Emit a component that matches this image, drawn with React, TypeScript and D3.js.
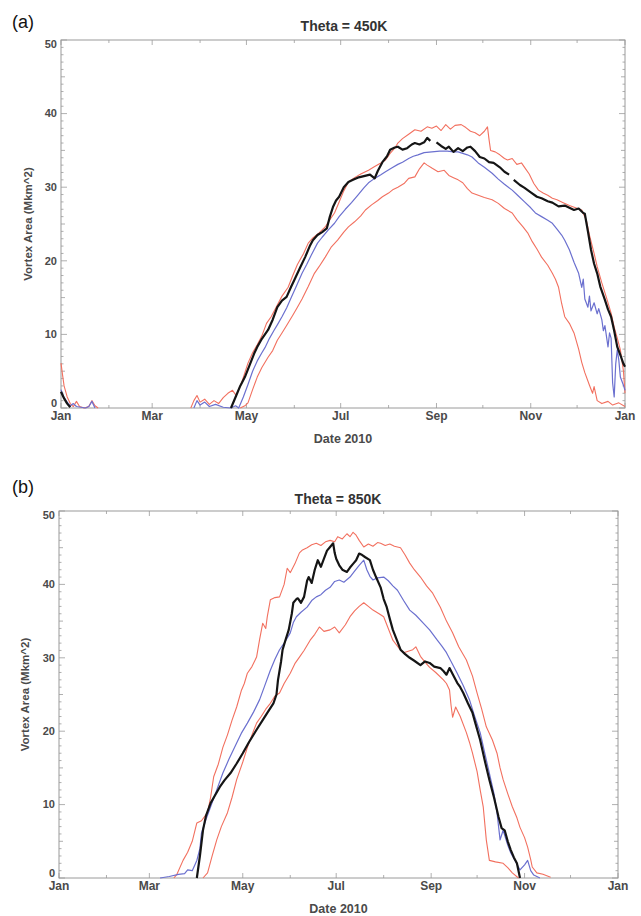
import React from "react";
import * as d3 from "d3";

type Pt = [number, number] | null;

// ---- Panel (a): Theta = 450K  (day of year 2010, vortex area Mkm^2)
const obs450: Pt[] = [
  [0, 2.2], [2, 1.3], [4, 0.6], [6, 0.1], null,
  [110, 0], [113, 1.5], [116, 3], [119, 4.2], [122, 5.8], [125, 7.4], [127, 8.3], [130, 9.4], [134, 10.6], [137, 12],
  [140, 13.7], [143, 14.6], [146, 15.1], [149, 16.5], [151, 17.4], [155, 19.2], [158, 20.5], [161, 22], [163, 22.8],
  [166, 23.5], [169, 23.9], [172, 24.4], [174, 26], [176, 27.3], [178, 28.2], [180, 28.7], [183, 30], [186, 30.7],
  [189, 31], [192, 31.3], [196, 31.5], [200, 31.7], [203, 31.2], [205, 32.2], [208, 33.4], [211, 34.2], [213, 35.1],
  [216, 35.4], [218, 35.5], [221, 35.1], [224, 35.3], [227, 35.8], [229, 36], [232, 35.8], [235, 36.1], [237, 36.7],
  [239, 36.3], null, [243, 36.1], [246, 35.6], [249, 35.2], [251, 35.5], [254, 34.8], [257, 35.3], [260, 34.9],
  [263, 35.4], [265, 35.5], [268, 34.9], [271, 34.1], [274, 33.9], [277, 33.4], [280, 33.3], [284, 32.7], [287, 32.1],
  [290, 31.7], null, [293, 31.0], [297, 30.3], [300, 29.9], [304, 29.3], [308, 28.7], [311, 28.5], [315, 28.1],
  [318, 27.9], [322, 27.4], [326, 27.5], [329, 27.2], [332, 26.9], [335, 27.1], [338, 26.5], [339, 26.4], [341, 24],
  [343, 21.5], [345, 19.6], [347, 18.3], [349, 16.5], [352, 14.7], [354, 13.4], [356, 12.4], [358, 10.5], [360, 8.3],
  [362, 7.2], [364, 6], [365, 5.6],
];
const mean450: Pt[] = [
  [0, 2.5], [2, 1.4], [4, 0.8], [6, 0.3], [8, 0.6], [10, 0.2], [13, 0.1], [16, 0], [18, 0.2], [20, 0.9], [22, 0], null,
  [86, 0], [88, 1.0], [90, 0.4], [93, 0.8], [96, 0.2], [100, 0.5], [105, 0.1], [110, 0], [113, 0.3],
  [115, 0], [118, 1.5], [121, 3.2], [124, 5], [127, 6.4], [130, 7.5], [132, 8.2], [135, 9.5], [138, 10.6], [140, 11.3],
  [143, 12.4], [146, 13.6], [149, 15], [152, 16.4], [156, 18.3], [159, 19.5], [162, 20.8], [166, 22.4], [169, 23.2],
  [173, 24.2], [177, 25.1], [180, 26], [184, 27], [188, 27.9], [192, 28.9], [196, 29.9], [199, 30.6], [203, 31.2],
  [207, 31.7], [210, 32.1], [214, 32.6], [218, 33.1], [221, 33.4], [225, 33.9], [228, 34.2], [231, 34.4], [235, 34.7],
  [240, 34.8], [245, 34.9], [250, 34.9], [254, 34.8], [257, 34.8], [260, 34.6], [263, 34.4], [266, 34.1], [270, 33.3],
  [274, 32.7], [279, 31.9], [283, 31.1], [287, 30.4], [292, 29.6], [296, 28.8], [300, 28], [304, 27.2], [307, 26.5],
  [311, 26], [315, 25.5], [318, 25.1], [321, 24.3], [324, 23.5], [326, 22.8], [329, 21.5], [332, 19.8], [335, 18.3],
  [337, 16.4], [338, 17.5], [339, 14.8], [341, 13.7], [342, 15.2], [343, 13.2], [345, 14.3], [347, 12.8], [348, 13.5],
  [350, 12], [351, 10.5], [352, 11.2], [354, 8.3], [355, 10.2], [356, 9.5], [357, 3.4], [358, 1.5], [359, 6], [360, 7.9],
  [361, 6.5], [362, 4.2], [364, 3.1], [365, 2.4],
];
const max450: Pt[] = [
  [0, 6.1], [1, 4.5], [2, 3.0], [4, 1.5], [6, 0.6], [8, 0.2], [10, 0.9], [12, 0.2], [15, 0], [18, 0.2], [20, 1.0],
  [22, 0.3], [24, 0], null,
  [84, 0], [86, 1.0], [88, 1.7], [90, 0.8], [93, 1.2], [96, 0.5], [99, 1.0], [102, 0.6], [105, 1.4], [108, 2.0],
  [111, 2.4], [113, 1.8], [114, 2.0], [117, 3.5], [121, 6.1], [124, 7.5], [127, 8.6], [130, 9.8], [133, 11.5],
  [136, 12.4], [140, 14], [143, 15.2], [147, 16.4], [150, 18], [153, 19.5], [157, 21], [160, 22.4], [163, 23.1],
  [167, 23.8], [171, 24.6], [174, 25.6], [177, 26.5], [180, 28], [183, 29.5], [186, 30.7], [190, 31.3], [194, 31.8],
  [199, 32.3], [203, 32.8], [207, 33.3], [210, 33.7], [213, 34.6], [216, 35.3], [218, 36], [221, 36.6], [225, 37.2],
  [229, 37.8], [233, 37.6], [237, 38.2], [240, 38], [243, 38.3], [246, 37.7], [249, 38.5], [252, 37.9], [255, 38.4],
  [259, 38.5], [262, 38.1], [265, 37.6], [268, 37.4], [271, 37.0], [274, 37.6], [276, 38.2], [277, 36.5], [278, 35],
  [281, 34.8], [284, 34.4], [287, 33.9], [289, 33.7], [292, 33.9], [295, 33.1], [298, 33.3], [300, 32.7], [303, 31.8],
  [306, 30.5], [309, 29.6], [312, 29.2], [315, 28.9], [318, 28.5], [321, 28.3], [325, 27.9], [329, 27.5], [333, 27.2],
  [337, 26.9], [340, 25.5], [342, 23.5], [345, 21], [347, 19.2], [350, 17], [353, 15], [356, 12.9], [358, 11],
  [360, 9.5], [362, 7.9], [364, 5], [365, 2],
];
const min450: Pt[] = [
  [116, 0], [119, 0.3], [121, 0.7], [124, 2.5], [127, 4.2], [130, 5.5], [134, 6.9], [137, 7.8], [140, 9.2], [143, 10.2],
  [146, 11.2], [150, 12.6], [153, 13.7], [156, 14.8], [160, 16.5], [164, 18.3], [167, 19.2], [171, 20.5], [175, 21.9],
  [179, 22.8], [183, 23.9], [186, 24.6], [190, 25.3], [194, 26.1], [197, 26.9], [201, 27.6], [205, 28.2], [208, 28.7],
  [212, 29.2], [215, 29.7], [218, 30], [222, 30.5], [225, 31.2], [229, 31.4], [232, 32.5], [235, 33.3], [237, 33.0],
  [240, 32.6], [244, 32.1], [248, 32.3], [251, 31.6], [254, 31.3], [257, 31], [260, 30.6], [263, 29.8], [266, 29.2],
  [270, 28.9], [274, 28.6], [279, 28.3], [283, 27.8], [287, 27.1], [292, 26.5], [295, 25.6], [299, 24.6], [302, 23.8],
  [305, 22.6], [308, 21.6], [311, 20.5], [315, 19.4], [318, 18.3], [320, 17.5], [322, 16.4], [324, 14.2], [326, 12.4],
  [329, 11.5], [332, 10.2], [335, 8], [337, 6.2], [339, 4.8], [342, 3.1], [344, 2], [345, 2.9], [347, 1.0], [350, 0.6],
  [354, 0.9], [357, 0.4], [361, 0.7], [365, 0.2],
];

// ---- Panel (b): Theta = 850K
const obs850: Pt[] = [
  [90, 0], [92, 3], [94, 6.5], [96, 8.5], [99, 10.2], [102, 11.3], [105, 12.4], [108, 13.3], [112, 14.3], [116, 15.6],
  [120, 17], [124, 18.5], [129, 20.2], [133, 21.5], [136, 22.5], [140, 23.8], [142, 25], [143, 27], [145, 29.5],
  [146, 31.1], [148, 32.5], [150, 33.8], [152, 36], [153, 37.5], [155, 38], [156, 38.1], [158, 37.5], [160, 38.3],
  [162, 40.5], [163, 41], [165, 40.2], [167, 42], [169, 43.3], [171, 42.4], [173, 43.5], [175, 44.6], [177, 45.1],
  [179, 45.6], [180, 44.3], [181, 43.5], [183, 42.6], [185, 42], [188, 41.7], [190, 42.3], [192, 42.8], [194, 43.3],
  [196, 44.2], [198, 44], [200, 43.7], [203, 43.3], [205, 42], [207, 41], [210, 39.6], [212, 38], [214, 36.9],
  [216, 35.3], [218, 33.8], [221, 32.2], [223, 31.1], [226, 30.5], [229, 30], [232, 29.6], [236, 29], [239, 29.5],
  [242, 29.3], [245, 28.8], [249, 28.6], [251, 28.2], [253, 27.7], [255, 28.6], [257, 27.8], [260, 26.6], [262, 26],
  [264, 25.2], [267, 23.8], [270, 22.5], [272, 21], [275, 18.8], [278, 16], [281, 13.4], [284, 11], [287, 8.3],
  [289, 6.8], [291, 6.5], [293, 5], [295, 3.8], [297, 2.8], [299, 2], [301, 0],
];
const mean850: Pt[] = [
  [66, 0], [72, 0.2], [78, 0.5], [82, 0.6], [84, 1.1], [87, 1.0], [90, 2.4], [92, 4], [93, 6.1], [96, 8], [99, 9.7],
  [103, 12], [107, 14.3], [111, 16.2], [116, 18.4], [119, 19.7], [123, 21.1], [127, 22.6], [131, 24.3], [134, 26],
  [138, 28.3], [141, 29.8], [144, 31.1], [147, 32], [151, 33.4], [153, 34.8], [155, 35.6], [158, 36.2], [162, 36.9],
  [165, 37.8], [168, 38.3], [171, 38.6], [174, 39.2], [177, 39.6], [180, 40.4], [183, 40.6], [186, 40.3], [190, 41],
  [193, 41.8], [196, 42.6], [199, 43.3], [201, 42], [203, 41.1], [205, 40.6], [208, 40.9], [212, 41], [215, 40.5],
  [218, 39.8], [221, 39.2], [225, 37.8], [229, 36.5], [233, 35.8], [238, 34.7], [242, 33.8], [247, 32.4], [250, 31.6],
  [253, 30.7], [256, 29.5], [260, 27.9], [264, 26.2], [268, 24.3], [271, 22.3], [275, 19.8], [278, 17], [281, 14.3],
  [284, 11.5], [286, 8.9], [288, 5.2], [290, 6.5], [293, 4.5], [295, 3.4], [298, 2.3], [301, 1.1], [304, 1.8],
  [306, 2.4], [308, 1.0], [310, 0.4], [314, 0],
];
const max850: Pt[] = [
  [75, 0], [77, 0.5], [81, 2.4], [84, 3.5], [87, 5], [90, 7.5], [93, 7.8], [97, 8.9], [99, 11], [101, 13.8],
  [104, 15.5], [107, 17.8], [110, 19.5], [113, 21.5], [116, 23.3], [119, 25.5], [121, 26.5], [123, 27.9], [126, 28.8],
  [129, 30.1], [131, 32.5], [133, 34.7], [135, 34], [136, 35.6], [138, 37.9], [141, 38.2], [144, 38.3], [147, 40],
  [149, 42.2], [151, 41.6], [154, 42.8], [157, 44.3], [159, 44.7], [162, 45], [165, 45.4], [168, 45.6], [171, 45.3],
  [174, 45.8], [177, 46], [180, 45.8], [182, 46.5], [185, 46.2], [188, 46.9], [190, 46.5], [192, 47.1], [194, 46.7],
  [196, 46], [199, 45.1], [202, 45.5], [205, 45.2], [208, 45.7], [210, 45.6], [213, 45.3], [216, 45.5], [219, 45.2],
  [223, 45], [226, 44], [229, 42.9], [232, 42], [236, 41], [240, 39.8], [244, 38.8], [249, 36.9], [253, 35],
  [257, 33.4], [261, 31.5], [266, 29.7], [270, 27.5], [273, 25.2], [276, 23], [279, 20.6], [283, 18.8], [286, 17],
  [288, 15], [290, 13.4], [293, 11.5], [296, 9.7], [299, 8.2], [301, 6.9], [304, 5.5], [306, 4.2], [308, 2.5],
  [309, 1.5], [312, 0.7], [316, 0.5], [321, 0.1],
];
const min850: Pt[] = [
  [94, 0], [97, 0.7], [100, 3], [103, 5.2], [106, 7], [110, 8.9], [113, 11], [116, 13.4], [120, 15.8], [123, 17.8],
  [126, 19.5], [129, 21.1], [132, 22], [135, 23], [138, 23.8], [141, 24.8], [144, 25.2], [147, 26.5], [151, 27.9],
  [154, 29.2], [157, 30.1], [160, 31], [164, 32.4], [167, 33.2], [170, 34.2], [173, 33.6], [177, 33.8], [180, 34.2],
  [183, 33.4], [187, 34.5], [190, 35.6], [193, 36.4], [196, 37], [199, 37.5], [202, 37], [205, 36.5], [209, 36],
  [212, 35.6], [215, 34], [218, 32.4], [222, 31.3], [225, 30.7], [228, 30.9], [231, 31.1], [233, 31.5], [236, 30.2],
  [239, 29.4], [242, 28.7], [246, 28], [251, 27], [253, 26.5], [255, 25.6], [256, 23.5], [257, 21.9], [259, 23.3],
  [262, 22], [266, 19.8], [268, 18.5], [270, 17], [273, 14.5], [275, 12], [277, 9.7], [279, 5.2], [281, 2.4],
  [285, 2.2], [290, 2], [293, 1.4], [296, 0.7], [300, 0],
];

const yTicks = [0, 10, 20, 30, 40, 50];
const titles = ["Theta = 450K", "Theta = 850K"];
const panelLabels = ["(a)", "(b)"];
const xLabel = "Date 2010";
const yLabel = "Vortex Area (Mkm^2)";

const RED = "#f2705f";
const BLUE = "#6b70cf";
const BLACK = "#151515";
const FRAME = "#9a9a9a";
const TXT = "#4a4a4a";

const start = new Date(2010, 0, 1);
const end = new Date(2011, 0, 1);
const toDate = (d: number) => d3.timeDay.offset(start, d);

interface PanelProps {
  box: { l: number; r: number; t: number; b: number };
  title: string;
  titleX: number;
  titleY: number;
  tag: string;
  tagY: number;
  ylabX: number;
  series: { data: Pt[]; color: string; width: number }[];
}

function Panel({ box, title, titleX, titleY, tag, tagY, ylabX, series }: PanelProps) {
  const x = d3.scaleTime().domain([start, end]).range([box.l, box.r]);
  const y = d3.scaleLinear().domain([0, 50]).range([box.b, box.t]);
  const line = d3
    .line<Pt>()
    .defined((d) => d !== null)
    .x((d) => x(toDate((d as [number, number])[0])))
    .y((d) => y((d as [number, number])[1]));
  const months = d3.timeMonth.range(start, d3.timeDay.offset(end, 1));
  const fmt = d3.timeFormat("%b");
  const minorY = d3.range(0, 51, 1);
  const font = "Liberation Sans, Arial, Helvetica, sans-serif";
  return (
    <g fontFamily={font}>
      <text x={12} y={tagY} fontSize={18} fill="#111">{tag}</text>
      <text x={titleX} y={titleY} textAnchor="middle" fontSize={14} fontWeight="bold" fill="#333">{title}</text>
      {/* minor y ticks */}
      {minorY.map((v) => {
        const len = v % 10 === 0 ? 6 : v % 5 === 0 ? 4 : 2.5;
        return (
          <g key={"y" + v} stroke={FRAME} strokeWidth={0.8}>
            <line x1={box.l} x2={box.l + len} y1={y(v)} y2={y(v)} />
            <line x1={box.r} x2={box.r - len} y1={y(v)} y2={y(v)} />
          </g>
        );
      })}
      {months.map((m, i) => (
        <g key={"m" + i} stroke={FRAME} strokeWidth={0.8}>
          <line x1={x(m)} x2={x(m)} y1={box.b} y2={box.b - (i % 2 === 0 ? 5 : 3)} />
          <line x1={x(m)} x2={x(m)} y1={box.t} y2={box.t + (i % 2 === 0 ? 5 : 3)} />
        </g>
      ))}
      <rect x={box.l} y={box.t} width={box.r - box.l} height={box.b - box.t} fill="none" stroke={FRAME} strokeWidth={1} />
      {series.map((s, i) => (
        <path key={i} d={line(s.data) || ""} fill="none" stroke={s.color} strokeWidth={s.width} strokeLinejoin="round" />
      ))}
      {yTicks.map((v, i) => (
        <text
          key={"yl" + v}
          x={box.l - 4}
          y={y(v)}
          dy={v === 0 ? "-0.05em" : v === 50 ? "0.75em" : "0.35em"}
          textAnchor="end"
          fontSize={11}
          fontWeight="bold"
          fill={TXT}
        >
          {v}
        </text>
      ))}
      {months
        .filter((_, i) => i % 2 === 0)
        .map((m, i) => (
          <text key={"xl" + i} x={x(m)} y={box.b + 12} textAnchor="middle" fontSize={12} fontWeight="bold" fill={TXT}>
            {fmt(m)}
          </text>
        ))}
      <text x={(box.l + box.r) / 2} y={box.b + 35} textAnchor="middle" fontSize={12.5} fontWeight="bold" fill={TXT}>
        {xLabel}
      </text>
      <text
        transform={`translate(${ylabX},${(box.t + box.b) / 2}) rotate(-90)`}
        textAnchor="middle"
        dy="0.35em"
        fontSize={11.5}
        fontWeight="bold"
        fill={TXT}
      >
        {yLabel}
      </text>
    </g>
  );
}

export default function App() {
  return (
    <svg
      width={641}
      height={916}
      style={{ position: "absolute", left: 0, top: 0, background: "#fff" }}
    >
      <rect width={641} height={916} fill="#fff" />
      <Panel
        box={{ l: 61, r: 625, t: 40, b: 408 }}
        title={titles[0]}
        titleX={344}
        titleY={31}
        tag={panelLabels[0]}
        tagY={28}
        ylabX={28}
        series={[
          { data: max450, color: RED, width: 1.1 },
          { data: min450, color: RED, width: 1.1 },
          { data: mean450, color: BLUE, width: 1.2 },
          { data: obs450, color: BLACK, width: 2.2 },
        ]}
      />
      <Panel
        box={{ l: 59, r: 618, t: 511, b: 878 }}
        title={titles[1]}
        titleX={338}
        titleY={504}
        tag={panelLabels[1]}
        tagY={493}
        ylabX={25}
        series={[
          { data: max850, color: RED, width: 1.1 },
          { data: min850, color: RED, width: 1.1 },
          { data: mean850, color: BLUE, width: 1.2 },
          { data: obs850, color: BLACK, width: 2.2 },
        ]}
      />
    </svg>
  );
}
